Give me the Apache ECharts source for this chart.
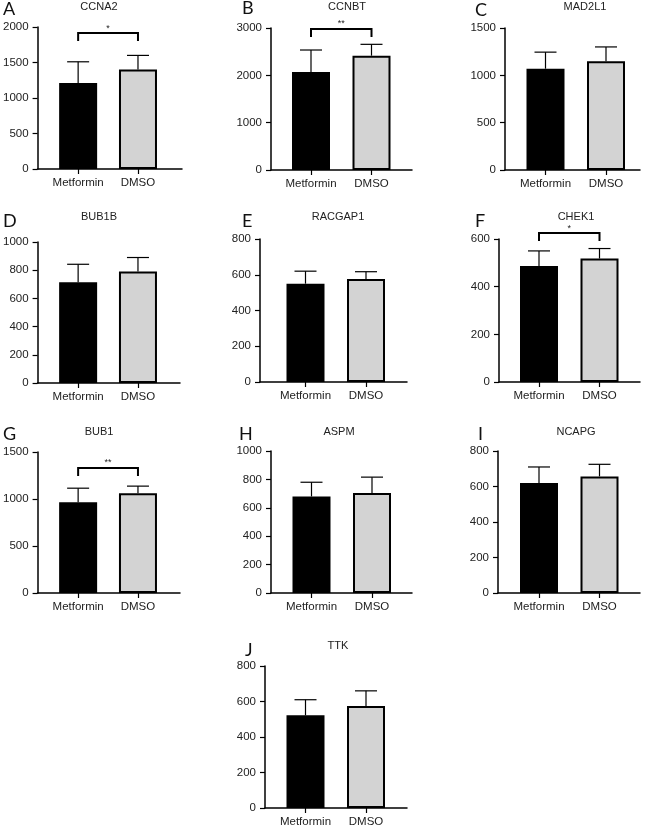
<!DOCTYPE html>
<html>
<head>
<meta charset="utf-8">
<script src="https://cdn.jsdelivr.net/npm/echarts@6/dist/echarts.min.js"></script>
<style>
html,body{margin:0;padding:0;background:#fff;}
#c{width:649px;height:828px;}
</style>
</head>
<body>
<div id="c"></div>
<script>
// ---- data ----
const categories = ['Metformin', 'DMSO'];
const genes = ['CCNA2', 'CCNBT', 'MAD2L1', 'BUB1B', 'RACGAP1', 'CHEK1', 'BUB1', 'ASPM', 'NCAPG', 'TTK'];
const panelLetters = ['A', 'B', 'C', 'D', 'E', 'F', 'G', 'H', 'I', 'J'];
const metforminMean = [1210, 2070, 1070, 715, 550, 487, 965, 680, 620, 522];
const metforminErr  = [300, 465, 175, 127, 70, 63, 150, 100, 90, 88];
const dmsoMean      = [1400, 2415, 1150, 790, 576, 518, 1062, 705, 657, 575];
const dmsoErr       = [200, 240, 150, 100, 41, 42, 75, 111, 68, 85];
const yMax          = [2000, 3000, 1500, 1000, 800, 600, 1500, 1000, 800, 800];
const yInterval     = [500, 1000, 500, 200, 200, 200, 500, 200, 200, 200];
const sigLabels     = ['*', '**', '', '', '', '*', '**', '', '', ''];
const sigLevel      = [1915, 2980, null, null, null, 625, 1330, null, null, null];

// ---- layout (pixels) ----
const axisX0  = [36, 271, 505, 36, 260, 499, 36, 271, 498, 265];
const axisX1  = [182, 412, 640, 180, 407, 640, 180, 412, 640, 407];
const axisTop = [27, 28, 28, 242, 239, 239, 452, 451, 451, 666];
const axisZero= [169, 170, 170, 383, 382, 382, 593, 593, 593, 809];
const center1 = [77, 311, 545.5, 77, 305.5, 539, 77, 311.5, 539, 305.5];
const catStep = 60.5;
const titlePos  = [[99,7],[347,7],[585,7],[99,217],[338,217],[576,217],[99,432],[339,432],[576,432],[338,645.5]];
const letterPos = [[3,9],[242,8],[475,10],[3,221],[242,221],[475,221],[3,434],[239,434],[478,434],[245,650]];

const W = 649, H = 828;
const FONT = '"Liberation Sans", Arial, sans-serif';
const grids = [], xAxes = [], yAxes = [], series = [], graphics = [];

for (let i = 0; i < genes.length; i++) {
  grids.push({
    left: axisX0[i], width: axisX1[i] - axisX0[i],
    top: axisTop[i], height: axisZero[i] - axisTop[i],
    containLabel: false
  });
  const xmin = -(center1[i] - axisX0[i]) / catStep;
  const xmax = 1 + (axisX1[i] - center1[i] - catStep) / catStep;
  xAxes.push({
    type: 'value', gridIndex: i, min: xmin, max: xmax,
    splitLine: { show: false },
    axisLine: { show: true, onZero: false, lineStyle: { color: '#000', width: 1.5 } },
    axisTick: { show: true, customValues: [0, 1], length: 5, lineStyle: { color: '#000', width: 1.2 } },
    axisLabel: {
      show: true, customValues: [0, 1], margin: 8,
      formatter: v => categories[Math.round(v)],
      color: '#222', fontSize: 11.5, fontFamily: FONT
    }
  });
  yAxes.push({
    type: 'value', gridIndex: i, min: 0, max: yMax[i], interval: yInterval[i],
    splitLine: { show: false },
    axisLine: { show: true, onZero: false, lineStyle: { color: '#000', width: 1.5 } },
    axisTick: { show: true, length: 5, lineStyle: { color: '#000', width: 1.2 } },
    axisLabel: { margin: 9, color: '#222', fontSize: 11.5, fontFamily: FONT, formatter: v => String(v) }
  });
  series.push({
    type: 'bar', xAxisIndex: i, yAxisIndex: i, barWidth: 38,
    data: [
      { value: [0, metforminMean[i]], itemStyle: { color: '#000', borderColor: '#000', borderWidth: 2 } },
      { value: [1, dmsoMean[i]], itemStyle: { color: '#d3d3d3', borderColor: '#000', borderWidth: 2 } }
    ],
    silent: true, animation: false
  });
  series.push({
    type: 'custom', xAxisIndex: i, yAxisIndex: i, z: 5, animation: false, silent: true,
    data: [[0, metforminMean[i], metforminErr[i]], [1, dmsoMean[i], dmsoErr[i]]],
    renderItem: function (params, api) {
      const x = api.value(0), m = api.value(1), e = api.value(2);
      const base = api.coord([x, m]);
      const top = api.coord([x, m + e]);
      const half = 11;
      return {
        type: 'group',
        children: [
          { type: 'line', shape: { x1: base[0], y1: base[1], x2: top[0], y2: top[1] }, style: { stroke: '#000', lineWidth: 1.2 } },
          { type: 'line', shape: { x1: top[0] - half, y1: top[1], x2: top[0] + half, y2: top[1] }, style: { stroke: '#000', lineWidth: 1.2 } }
        ]
      };
    }
  });
  if (sigLevel[i] != null) {
    series.push({
      type: 'custom', xAxisIndex: i, yAxisIndex: i, z: 6, animation: false, silent: true, clip: false,
      data: [[0, 1, sigLevel[i]]],
      renderItem: (function (label) {
        return function (params, api) {
          const p0 = api.coord([api.value(0), api.value(2)]);
          const p1 = api.coord([api.value(1), api.value(2)]);
          return {
            type: 'group',
            children: [
              { type: 'polyline', shape: { points: [[p0[0], p0[1] + 8], [p0[0], p0[1]], [p1[0], p1[1]], [p1[0], p1[1] + 8]] },
                style: { stroke: '#000', lineWidth: 2, fill: null } },
              { type: 'text', x: (p0[0] + p1[0]) / 2, y: p0[1] - 5,
                style: { text: label, textAlign: 'center', textVerticalAlign: 'middle', font: '9px ' + FONT, fill: '#222' } }
            ]
          };
        };
      })(sigLabels[i])
    });
  }
  graphics.push({
    type: 'text', x: titlePos[i][0], y: titlePos[i][1],
    style: { text: genes[i], textAlign: 'center', textVerticalAlign: 'middle', font: '11px ' + FONT, fill: '#222' }
  });
  graphics.push({
    type: 'text', x: letterPos[i][0], y: letterPos[i][1],
    style: { text: panelLetters[i], textAlign: 'left', textVerticalAlign: 'middle', font: '18px Lato, "Noto Sans", sans-serif', fill: '#111' }
  });
}

const chart = echarts.init(document.getElementById('c'), null, { renderer: 'canvas', width: W, height: H });
chart.setOption({
  backgroundColor: '#fff',
  animation: false,
  grid: grids,
  xAxis: xAxes,
  yAxis: yAxes,
  series: series,
  graphic: graphics
});
</script>
</body>
</html>
